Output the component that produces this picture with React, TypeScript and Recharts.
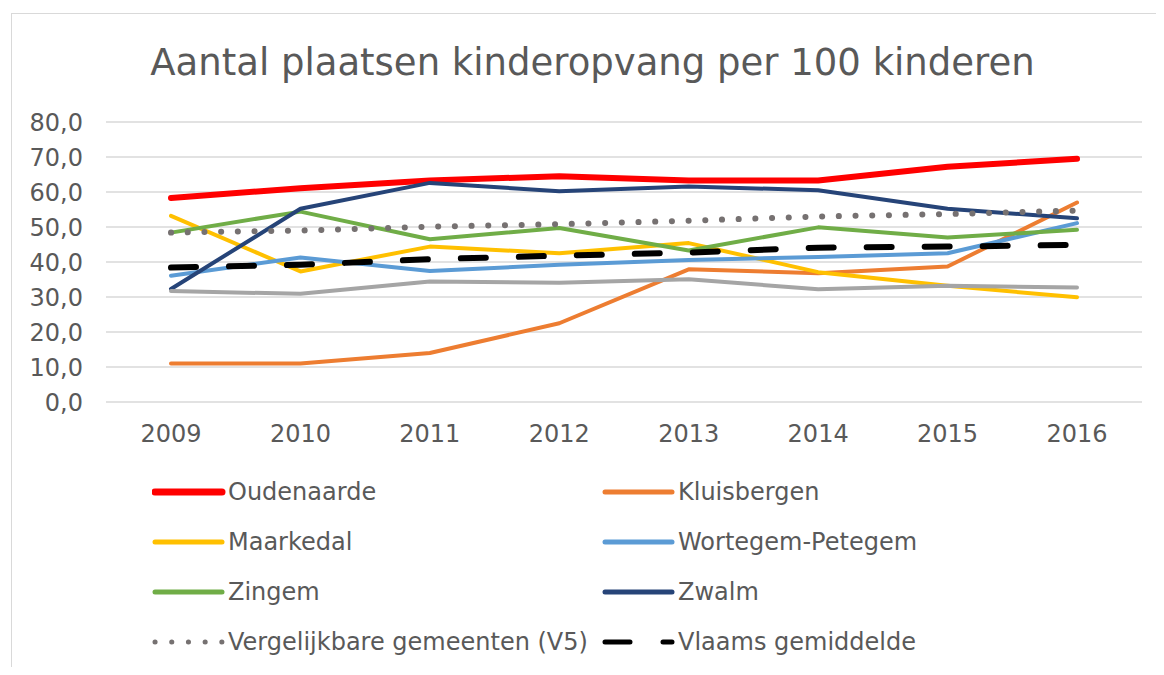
import { LineChart, Line, XAxis, YAxis, CartesianGrid, Legend } from "recharts";

// jaren op de x-as
const years = ["2009", "2010", "2011", "2012", "2013", "2014", "2015", "2016"];

// plaatsen per 100 kinderen
const oudenaarde = [58.3, 61.1, 63.3, 64.5, 63.3, 63.3, 67.2, 69.5];
const kluisbergen = [11.0, 11.0, 14.0, 22.5, 37.9, 36.8, 38.7, 57.0];
const maarkedal = [53.2, 37.3, 44.4, 42.5, 45.4, 37.1, 33.2, 29.9];
const wortegem = [36.1, 41.3, 37.4, 39.2, 40.6, 41.4, 42.5, 51.1];
const zingem = [48.4, 54.4, 46.5, 49.7, 43.3, 49.9, 47.0, 49.2];
const zwalm = [32.3, 55.2, 62.6, 60.2, 61.6, 60.5, 55.2, 52.5];
const zonderLegende = [31.7, 30.9, 34.4, 34.1, 35.1, 32.2, 33.2, 32.7];
const vergelijkbaar = [48.4, 49.0, 50.1, 50.8, 51.8, 53.0, 53.7, 54.7];
const vlaams = [38.4, 39.2, 40.8, 41.8, 42.7, 44.1, 44.4, 44.9];

const yTicks = [0, 10, 20, 30, 40, 50, 60, 70, 80];

const valuesByKey: Record<string, number[]> = {
  "Oudenaarde": oudenaarde,
  "Kluisbergen": kluisbergen,
  "Maarkedal": maarkedal,
  "Wortegem-Petegem": wortegem,
  "Zingem": zingem,
  "Zwalm": zwalm,
  "Zonder legende": zonderLegende,
  "Vergelijkbare gemeenten (V5)": vergelijkbaar,
  "Vlaams gemiddelde": vlaams,
};

type Style = { key: string; color: string; width: number; dash?: string; legend: boolean };

// draw order
const series: Style[] = [
  { key: "Oudenaarde", color: "#FF0000", width: 6, legend: true },
  { key: "Kluisbergen", color: "#ED7D31", width: 4, legend: true },
  { key: "Maarkedal", color: "#FFC000", width: 4, legend: true },
  { key: "Wortegem-Petegem", color: "#5B9BD5", width: 4, legend: true },
  { key: "Zingem", color: "#70AD47", width: 4, legend: true },
  { key: "Zwalm", color: "#264478", width: 4, legend: true },
  { key: "Zonder legende", color: "#A5A5A5", width: 4, legend: false },
  { key: "Vergelijkbare gemeenten (V5)", color: "#767171", width: 6, dash: "0.1 16.6", legend: true },
  { key: "Vlaams gemiddelde", color: "#000000", width: 6, dash: "25 33", legend: true },
];

const rows = years.map((year, i) => {
  const row: Record<string, string | number> = { year };
  Object.keys(valuesByKey).forEach((k) => {
    row[k] = valuesByKey[k][i];
  });
  return row;
});

const fmt = (v: number) => v.toFixed(1).replace(".", ",");

const LegendBox = () => {
  const items = series.filter((s) => s.legend);
  return (
    <div style={{ position: "relative", width: 1148, height: 200 }}>
      {items.map((s, i) => {
        const col = i % 2;
        const row = Math.floor(i / 2);
        return (
          <div
            key={s.key}
            style={{
              position: "absolute",
              left: 144 + col * 450,
              top: row * 50,
              height: 50,
              display: "flex",
              alignItems: "center",
              whiteSpace: "nowrap",
            }}
          >
            <svg width={74} height={12}>
              <line
                x1={3}
                x2={70}
                y1={6}
                y2={6}
                stroke={s.color}
                strokeWidth={s.key === "Oudenaarde" ? 7 : 5}
                strokeDasharray={s.dash}
                strokeLinecap="round"
              />
            </svg>
            <span style={{ fontSize: 24, color: "#595959", marginLeft: 2 }}>{s.key}</span>
          </div>
        );
      })}
    </div>
  );
};

export default function App() {
  return (
    <div
      style={{
        position: "relative",
        width: 1148,
        height: 659,
        overflow: "hidden",
        fontFamily: "'DejaVu Sans', Verdana, sans-serif",
        background: "#fff",
      }}
    >
      <div
        style={{
          position: "absolute",
          left: 3,
          top: 5,
          width: 1200,
          height: 700,
          border: "1px solid #D9D9D9",
        }}
      />
      <div
        style={{
          position: "absolute",
          left: 0,
          top: 36,
          width: 1169,
          textAlign: "center",
          fontSize: 37,
          lineHeight: "37px",
          color: "#595959",
          whiteSpace: "nowrap",
        }}
      >
        Aantal plaatsen kinderopvang per 100 kinderen
      </div>
      <div style={{ position: "absolute", left: 0, top: 0 }}>
        <LineChart
          width={1148}
          height={659}
          data={rows}
          margin={{ top: 114, right: 14, bottom: 235, left: 18 }}
        >
          <CartesianGrid vertical={false} stroke="#D9D9D9" strokeWidth={1.3} />
          <XAxis
            dataKey="year"
            padding={{ left: 65, right: 65 }}
            axisLine={false}
            tickLine={false}
            tickSize={6}
            tickMargin={17}
            tick={{ fill: "#595959", fontSize: 24 }}
          />
          <YAxis
            width={80}
            domain={[0, 80]}
            ticks={yTicks}
            tickFormatter={fmt}
            axisLine={false}
            tickLine={false}
            tickSize={6}
            tickMargin={17}
            tick={{ fill: "#595959", fontSize: 24 }}
          />
          <Legend
            layout="horizontal"
            verticalAlign="middle"
            align="center"
            wrapperStyle={{ top: 459, left: 0, width: 1148 }}
            content={() => <LegendBox />}
          />
          {series.map((s) => (
            <Line
              key={s.key}
              type="linear"
              dataKey={s.key}
              stroke={s.color}
              strokeWidth={s.width}
              strokeDasharray={s.dash}
              strokeLinecap="round"
              strokeLinejoin="round"
              dot={false}
              activeDot={false}
              legendType={s.legend ? "line" : "none"}
              isAnimationActive={false}
            />
          ))}
        </LineChart>
      </div>
    </div>
  );
}
